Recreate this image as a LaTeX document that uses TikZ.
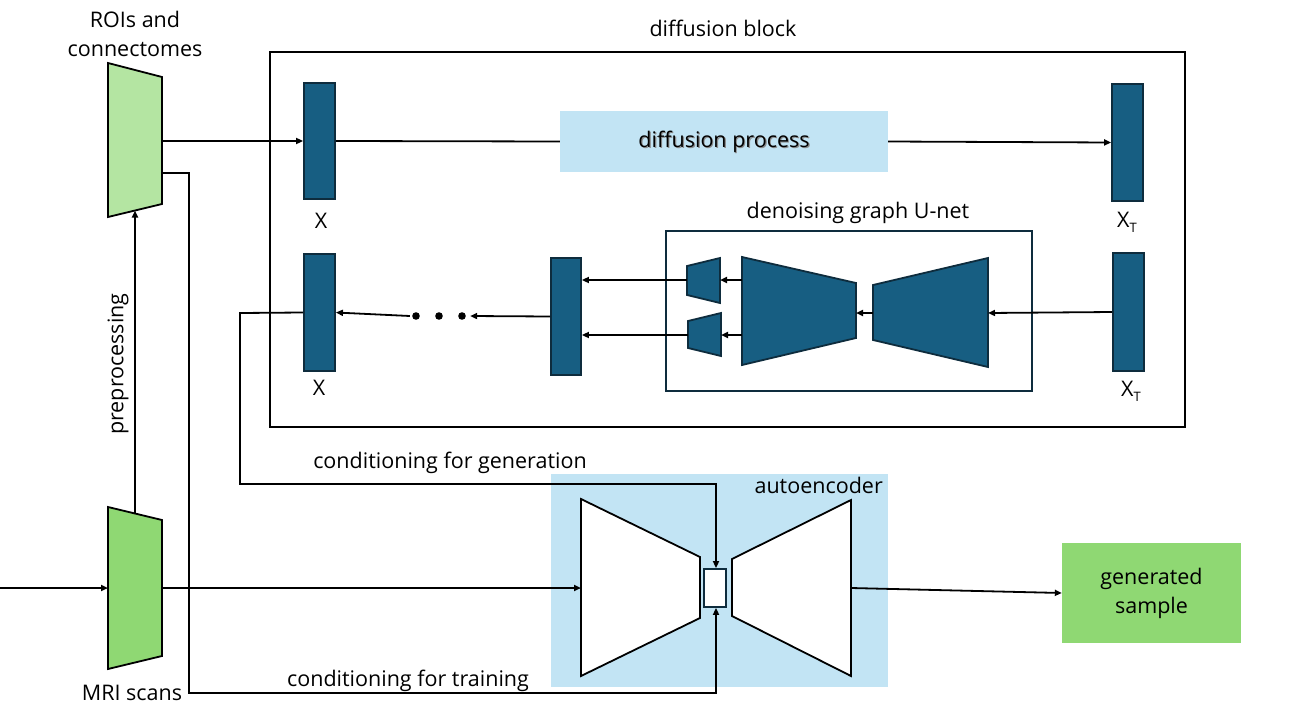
\documentclass[tikz,border=0pt]{standalone}
\usepackage{fontspec}
\setmainfont{Open Sans}
\usetikzlibrary{arrows.meta}
\definecolor{dblue}{HTML}{175E82}
\definecolor{dborder}{HTML}{0E2C3D}
\definecolor{lblue}{HTML}{C2E4F4}
\definecolor{lgreen}{HTML}{B4E5A2}
\definecolor{mgreen}{HTML}{8FD873}
\begin{document}
\begin{tikzpicture}[x=1pt,y=-1pt,
  font=\fontsize{21.5}{29}\selectfont,
  conn/.style={line width=1.8pt,-{Triangle[length=7pt,width=6pt]}},
  plain/.style={line width=1.8pt},
  vec/.style={draw=dborder,fill=dblue,line width=1.8pt,inner sep=0pt,minimum width=31pt},
  trapw/.style={draw=black,fill=white,line width=1.8pt,line join=miter},
  trapb/.style={draw=dborder,fill=dblue,line width=1.8pt},
  frame/.style={draw=black,line width=1.8pt,inner sep=0pt},
  lbl/.style={inner sep=0pt},
]
\useasboundingbox (0,0) rectangle (1291,728);

% ---------- backgrounds ----------
\node[fill=lblue,inner sep=0pt,minimum width=337pt,minimum height=213pt] (ae) at (719.5,580.5) {};
\node[lbl,anchor=north east] (aelbl) at (883,477) {autoencoder};

% ---------- diffusion block ----------
\node[frame,minimum width=915pt,minimum height=375pt] (dblock) at (727.5,239.5) {};
\node[lbl] (dbl) at (723,28) {diffusion block};

\node[vec,minimum height=116pt] (x1) at (319.5,141) {};
\node[lbl] (x1l) at (321,221) {X};
\node[fill=lblue,inner sep=0pt,minimum width=328pt,minimum height=61pt] (dp) at (724,141.5) {};
\node[lbl,text=black!45] at (725.2,143.2) {diffusion process};
\node[lbl] (dpl) at (724,141.5) {diffusion process};
\node[vec,minimum height=117pt] (xt1) at (1127.5,142.5) {};
\node[lbl] (xt1l) at (1127,222) {X{\fontsize{13}{13}\selectfont\raisebox{-5pt}{T}}};

\node[vec,minimum height=117pt] (x2) at (319.5,312.5) {};
\node[lbl] (x2l) at (319,388) {X};
\node[vec,minimum width=30pt,minimum height=117pt] (mid) at (566,316.5) {};
\node[vec,minimum height=118pt] (xt2) at (1128.5,312) {};
\node[lbl] (xt2l) at (1131,391) {X{\fontsize{13}{13}\selectfont\raisebox{-5pt}{T}}};

% dots
\node[inner sep=0pt,minimum width=60pt,minimum height=8pt] (dots) at (440,316) {};
\foreach \xx in {416,439,462} \fill (\xx,316) circle (3.8pt);

% U-net
\node[draw=dborder,line width=1.8pt,inner sep=0pt,minimum width=366pt,minimum height=160pt] (unet) at (849,311) {};
\node[lbl] (unetl) at (858,213) {denoising graph U-net};
\draw[trapb] (742,257) -- (856,283) -- (856,338) -- (742,365) -- cycle;
\draw[trapb] (873,285) -- (988,258) -- (988,367) -- (873,340) -- cycle;
\draw[trapb] (687,266) -- (720,258) -- (720,303) -- (687,295) -- cycle;
\draw[trapb] (688,321) -- (721,313) -- (721,356) -- (688,348) -- cycle;
\coordinate (encL1) at (742,280);
\coordinate (encL2) at (742,335);
\coordinate (encR) at (856,313);
\coordinate (decL) at (873,313);
\coordinate (decR) at (988,313);
\coordinate (s1R) at (720,280);
\coordinate (s1L) at (687,280);
\coordinate (s2R) at (721,335);
\coordinate (s2L) at (688,335);

% ---------- left side ----------
\draw[line width=1.8pt,fill=lgreen,line join=miter] (108,63) -- (162,77) -- (162,204) -- (108,217) -- cycle;
\node[lbl,align=center] (roil) at (135,34) {ROIs and\\connectomes};
\coordinate (roiOut) at (162,141);
\coordinate (roiOut2) at (162,173);
\coordinate (roiIn) at (135,210.5);

\draw[line width=1.8pt,fill=mgreen,line join=miter] (108,507) -- (162,520) -- (162,656) -- (108,669) -- cycle;
\node[lbl] (mril) at (132,693) {MRI scans};
\coordinate (mriIn) at (108,588);
\coordinate (mriOut) at (162,588);
\coordinate (mriTop) at (135,513.5);
\coordinate (src) at (0,588);

\node[lbl,rotate=90] (prel) at (118,364) {preprocessing};

% ---------- autoencoder ----------
\draw[trapw] (581,499) -- (700,557) -- (700,618) -- (581,676) -- cycle;
\draw[trapw] (732,559) -- (851,500) -- (851,676) -- (732,616) -- cycle;
\coordinate (encIn) at (581,588);
\coordinate (decOut) at (851,588);
\node[draw=dborder,fill=white,line width=1.8pt,inner sep=0pt,minimum width=22pt,minimum height=38pt] (lat) at (715,588) {};

\node[fill=mgreen,inner sep=0pt,minimum width=179pt,minimum height=100pt] (gen) at (1151.5,593) {};
\node[lbl,align=center] (genl) at (1151.5,593) {generated\\sample};

\node[lbl] (cgl) at (450,463) {conditioning for generation};
\node[lbl] (ctl) at (408,681) {conditioning for training};

% ---------- connectors ----------
\draw[conn] (roiOut) -- (x1.west);
\draw[plain] (x1.east) -- (dp.west);
\draw[conn] (dp.east) -- (xt1.west);

\draw[conn] (xt2.west) -- (decR);
\draw[conn] (decL) -- (encR);
\draw[conn] (encL1) -- (s1R);
\draw[conn] (encL2) -- (s2R);
\draw[conn] (s1L) -- (mid.east |- s1L);
\draw[conn] (s2L) -- (mid.east |- s2L);
\draw[conn] (mid.west) -- (dots.east);
\draw[conn] (dots.west) -- (x2.east);

\coordinate (g1) at (240,313);
\coordinate (g2) at (240,484);
\coordinate (g3) at (716,484);
\draw[conn] (x2.west) -- (g1) -- (g2) -- (g3) -- (lat.north -| g3);

\coordinate (t1) at (189,173);
\coordinate (t2) at (189,693);
\coordinate (t3) at (716,693);
\draw[conn] (roiOut2) -- (t1) -- (t2) -- (t3) -- (lat.south -| t3);

\draw[conn] (src) -- (mriIn);
\draw[conn] (mriOut) -- (encIn);
\draw[conn] (mriTop) -- (roiIn);
\draw[conn] (decOut) -- (gen.west);
\end{tikzpicture}
\end{document}
